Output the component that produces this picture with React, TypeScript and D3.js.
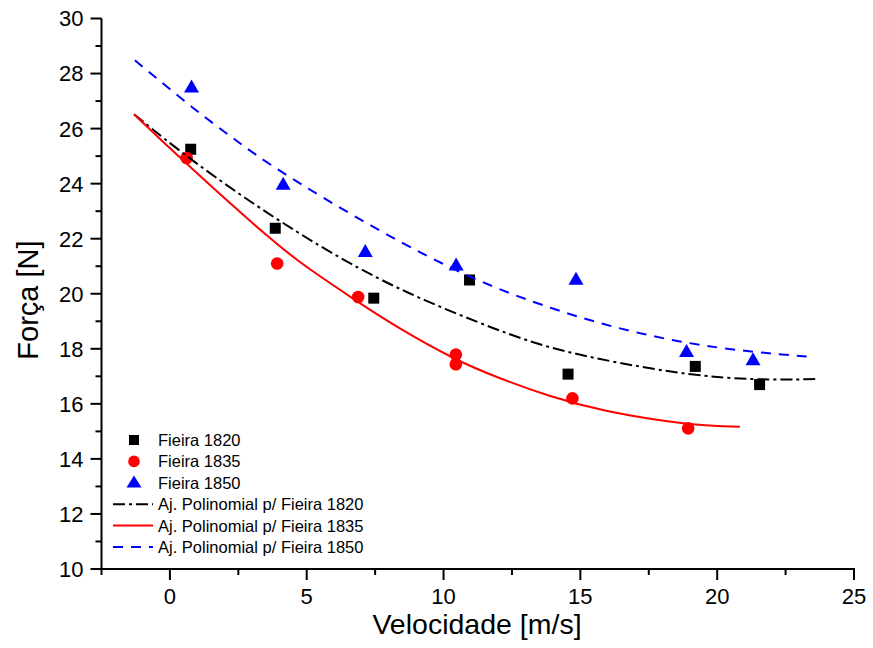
import React from "react";
import * as d3 from "d3";

// Measured points: velocity [m/s] and force [N]
const v1820 = [0.76, 3.85, 7.45, 10.95, 14.55, 19.2, 21.55];
const f1820 = [25.25, 22.38, 19.84, 20.5, 17.08, 17.36, 16.7];

const v1835 = [0.61, 3.92, 6.88, 10.45, 10.45, 14.71, 18.94];
const f1835 = [24.93, 21.1, 19.88, 17.79, 17.44, 16.2, 15.11];

const v1850 = [0.79, 4.14, 7.14, 10.46, 14.84, 18.88, 21.31];
const f1850 = [27.5, 23.97, 21.52, 21.03, 20.52, 17.89, 17.59];

// Polynomial fit curves, sampled along their length
const fitV1820 = [-1.31, 0.76, 3.9, 6.96, 9.27, 11.95, 13.89, 16.33, 19.01, 21.44, 23.63];
const fitF1820 = [26.52, 24.85, 22.67, 20.85, 19.76, 18.68, 18.01, 17.49, 17.04, 16.86, 16.9];

const fitV1835 = [-1.31, 0.45, 3.86, 5.01, 6.9, 8.3, 10.43, 11.95, 13.89, 15.72, 18.88, 20.83];
const fitF1835 = [26.52, 24.85, 21.8, 20.95, 19.68, 18.78, 17.59, 16.96, 16.26, 15.75, 15.23, 15.17];

const fitV1850 = [-1.28, 1.01, 2.34, 3.74, 7.57, 11.09, 14.01, 16.33, 18.88, 21.19, 23.38];
const fitF1850 = [28.48, 26.6, 25.63, 24.6, 22.3, 20.49, 19.43, 18.74, 18.19, 17.89, 17.71];

const xTicks = [0, 5, 10, 15, 20, 25];
const yTicks = [10, 12, 14, 16, 18, 20, 22, 24, 26, 28, 30];

const legendItems = [
  { kind: "square", label: "Fieira 1820" },
  { kind: "circle", label: "Fieira 1835" },
  { kind: "triangle", label: "Fieira 1850" },
  { kind: "dashdot", label: "Aj. Polinomial p/ Fieira 1820" },
  { kind: "solid", label: "Aj. Polinomial p/ Fieira 1835" },
  { kind: "dashed", label: "Aj. Polinomial p/ Fieira 1850" },
];

const FONT = "'Liberation Sans', Arial, sans-serif";
const BLACK = "#000000";
const RED = "#ff0000";
const BLUE = "#0000ff";
const DASHDOT = "12,4,3,4";
const DASHED = "10,8";

const x = d3.scaleLinear().domain([-2.5, 25]).range([101.5, 854]);
const y = d3.scaleLinear().domain([10, 30]).range([569, 18.5]);

const line = d3
  .line<[number, number]>()
  .x((d) => x(d[0]))
  .y((d) => y(d[1]))
  .curve(d3.curveBasis);

const zip = (a: number[], b: number[]) => a.map((v, i) => [v, b[i]] as [number, number]);

function Square({ cx, cy, s = 11 }: { cx: number; cy: number; s?: number }) {
  return <rect x={cx - s / 2} y={cy - s / 2} width={s} height={s} fill={BLACK} />;
}
function Circle({ cx, cy, r = 6.3 }: { cx: number; cy: number; r?: number }) {
  return <circle cx={cx} cy={cy} r={r} fill={RED} />;
}
function Triangle({ cx, cy, w = 15, h = 13 }: { cx: number; cy: number; w?: number; h?: number }) {
  const p = `${cx},${cy - h * 0.6} ${cx + w / 2},${cy + h * 0.4} ${cx - w / 2},${cy + h * 0.4}`;
  return <polygon points={p} fill={BLUE} />;
}

export default function App() {
  const minorX = d3.range(-2.5, 25.01, 2.5).filter((v) => !xTicks.includes(v));
  const minorY = d3.range(11, 30, 2);
  const legendY0 = 440;
  const legendStep = 21.4;

  return (
    <svg
      width={873}
      height={648}
      style={{ position: "absolute", left: 0, top: 0, background: "#fff" }}
      fontFamily={FONT}
    >
      {/* scatter markers */}
      {v1820.map((v, i) => (
        <Square key={"s" + i} cx={x(v)} cy={y(f1820[i])} />
      ))}
      {v1835.map((v, i) => (
        <Circle key={"c" + i} cx={x(v)} cy={y(f1835[i])} />
      ))}
      {v1850.map((v, i) => (
        <Triangle key={"t" + i} cx={x(v)} cy={y(f1850[i])} />
      ))}

      {/* fitted curves */}
      <path d={line(zip(fitV1820, fitF1820)) || ""} fill="none" stroke={BLACK} strokeWidth={2} strokeDasharray={DASHDOT} />
      <path d={line(zip(fitV1835, fitF1835)) || ""} fill="none" stroke={RED} strokeWidth={2} />
      <path d={line(zip(fitV1850, fitF1850)) || ""} fill="none" stroke={BLUE} strokeWidth={2} strokeDasharray={DASHED} />

      {/* axes */}
      <line x1={x(-2.5)} x2={x(-2.5)} y1={y(10) + 1} y2={y(30)} stroke={BLACK} strokeWidth={2} />
      <line x1={x(-2.5) - 1} x2={x(25) + 1} y1={y(10)} y2={y(10)} stroke={BLACK} strokeWidth={2} />
      {yTicks.map((t) => (
        <g key={"yt" + t}>
          <line x1={x(-2.5) - 11} x2={x(-2.5)} y1={y(t)} y2={y(t)} stroke={BLACK} strokeWidth={2} />
          <text x={x(-2.5) - 18} y={y(t)} dy="0.36em" textAnchor="end" fontSize={22} fill={BLACK}>
            {t}
          </text>
        </g>
      ))}
      {minorY.map((t) => (
        <line key={"ym" + t} x1={x(-2.5) - 6} x2={x(-2.5)} y1={y(t)} y2={y(t)} stroke={BLACK} strokeWidth={2} />
      ))}
      {xTicks.map((t) => (
        <g key={"xt" + t}>
          <line x1={x(t)} x2={x(t)} y1={y(10)} y2={y(10) + 11} stroke={BLACK} strokeWidth={2} />
          <text x={x(t)} y={604} textAnchor="middle" fontSize={22} fill={BLACK}>
            {t}
          </text>
        </g>
      ))}
      {minorX.map((t) => (
        <line key={"xm" + t} x1={x(t)} x2={x(t)} y1={y(10)} y2={y(10) + 6} stroke={BLACK} strokeWidth={2} />
      ))}

      {/* axis titles */}
      <text x={477} y={634} textAnchor="middle" fontSize={28.5} fill={BLACK}>
        Velocidade [m/s]
      </text>
      <text
        transform="translate(38,300) rotate(-90)"
        textAnchor="middle"
        fontSize={29}
        fill={BLACK}
      >
        Força [N]
      </text>

      {/* legend */}
      {legendItems.map((it, i) => {
        const cy = legendY0 + i * legendStep;
        let sym: React.ReactNode = null;
        if (it.kind === "square") sym = <Square cx={134} cy={cy} s={10} />;
        else if (it.kind === "circle") sym = <Circle cx={134} cy={cy} r={5.8} />;
        else if (it.kind === "triangle") sym = <Triangle cx={134} cy={cy} w={15} h={12} />;
        else {
          const stroke = it.kind === "dashdot" ? BLACK : it.kind === "solid" ? RED : BLUE;
          const dash = it.kind === "dashdot" ? DASHDOT : it.kind === "dashed" ? DASHED : undefined;
          sym = <line x1={113} x2={153} y1={cy} y2={cy} stroke={stroke} strokeWidth={2} strokeDasharray={dash} />;
        }
        return (
          <g key={"lg" + i}>
            {sym}
            <text x={158} y={cy} dy="0.36em" fontSize={16.5} fill={BLACK}>
              {it.label}
            </text>
          </g>
        );
      })}
    </svg>
  );
}
